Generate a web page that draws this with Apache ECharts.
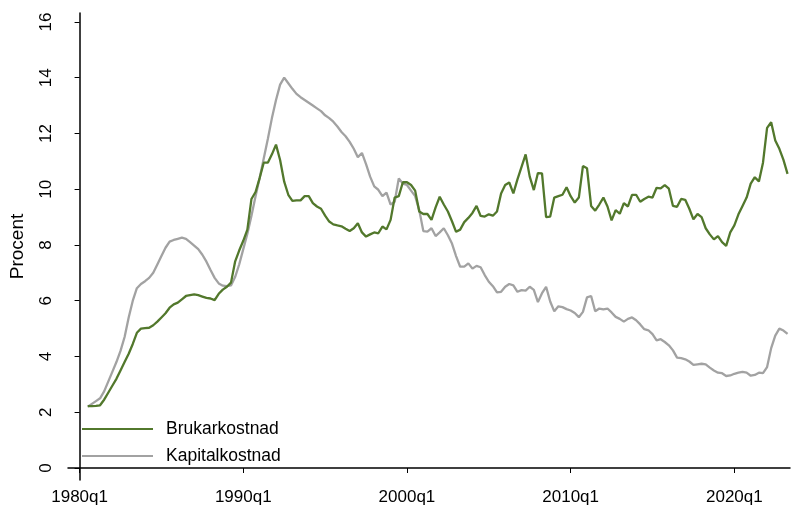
<!DOCTYPE html>
<html>
<head>
<meta charset="utf-8">
<script src="https://cdn.jsdelivr.net/npm/echarts@6/dist/echarts.min.js"></script>
<style>
  html, body { margin: 0; padding: 0; background: #fff; }
  #chart { width: 793px; height: 510px; }
</style>
</head>
<body>
<div id="chart"></div>
<script>
// kvartal räknas från 1980q1 = 0, första observationen är 1980q3
var startKvartal = 2;
var tickPos = [0, 40, 80, 120, 160];
var tickLabels = ['1980q1', '1990q1', '2000q1', '2010q1', '2020q1'];
var yTicks = [0, 2, 4, 6, 8, 10, 12, 14, 16];

var brukarkostnad = [
  2.22, 2.22, 2.23, 2.25, 2.45, 2.7, 2.95, 3.2, 3.5, 3.8, 4.1, 4.45, 4.85, 5.0, 5.02, 5.03,
  5.12, 5.25, 5.4, 5.55, 5.75, 5.87, 5.93, 6.05, 6.17, 6.2, 6.23, 6.2, 6.15, 6.1, 6.08, 6.02,
  6.25, 6.4, 6.5, 6.65, 7.4, 7.8, 8.15, 8.55, 9.65, 9.9, 10.4, 10.95, 10.95, 11.25, 11.6, 11.05,
  10.27, 9.8, 9.58, 9.6, 9.6, 9.75, 9.75, 9.5, 9.38, 9.3, 9.05, 8.84, 8.74, 8.7, 8.67, 8.58,
  8.5, 8.6, 8.78, 8.45, 8.3, 8.38, 8.45, 8.42, 8.66, 8.56, 8.9, 9.7, 9.75, 10.25, 10.25, 10.15,
  9.95, 9.2, 9.11, 9.11, 8.9, 9.35, 9.73, 9.45, 9.2, 8.85, 8.47, 8.55, 8.82, 8.97, 9.15, 9.4,
  9.04, 9.02, 9.1, 9.05, 9.2, 9.85, 10.15, 10.24, 9.85, 10.35, 10.8, 11.25, 10.45, 9.97, 10.58, 10.57,
  9.0, 9.02, 9.7, 9.75, 9.8, 10.07, 9.75, 9.52, 9.7, 10.83, 10.75, 9.4, 9.23, 9.45, 9.7, 9.38,
  8.88, 9.25, 9.12, 9.5, 9.38, 9.8, 9.8, 9.55, 9.65, 9.73, 9.7, 10.05, 10.03, 10.15, 10.02, 9.4,
  9.37, 9.65, 9.62, 9.3, 8.92, 9.11, 9.0, 8.6, 8.38, 8.2, 8.32, 8.1, 7.97, 8.45, 8.7, 9.1,
  9.4, 9.7, 10.2, 10.43, 10.28, 10.95, 12.2, 12.4, 11.75, 11.45, 11.05, 10.55
];

var kapitalkostnad = [
  2.2, 2.3, 2.4, 2.5, 2.75, 3.1, 3.45, 3.8, 4.2, 4.7, 5.4, 6.0, 6.45, 6.6, 6.7, 6.82,
  7.0, 7.3, 7.6, 7.9, 8.12, 8.18, 8.22, 8.26, 8.22, 8.1, 7.98, 7.85, 7.65, 7.4, 7.1, 6.82,
  6.62, 6.54, 6.52, 6.55, 6.85, 7.3, 7.85, 8.4, 9.05, 9.75, 10.4, 11.1, 11.8, 12.55, 13.2, 13.75,
  14.0, 13.8, 13.6, 13.42, 13.3, 13.2, 13.1, 13.0, 12.9, 12.8, 12.65, 12.55, 12.42, 12.25, 12.05, 11.9,
  11.7, 11.45, 11.15, 11.3, 10.9, 10.45, 10.1, 9.98, 9.75, 9.88, 9.45, 9.55, 10.39, 10.2, 10.15, 9.95,
  9.75, 9.25, 8.5, 8.48, 8.6, 8.32, 8.45, 8.6, 8.35, 8.05, 7.6, 7.22, 7.22, 7.34, 7.15, 7.25,
  7.2, 6.92, 6.68, 6.52, 6.3, 6.32, 6.5, 6.6, 6.55, 6.32, 6.38, 6.36, 6.5, 6.39, 5.95, 6.27,
  6.5, 5.97, 5.62, 5.8, 5.77, 5.7, 5.65, 5.56, 5.41, 5.6, 6.12, 6.17, 5.62, 5.72, 5.69, 5.72,
  5.58, 5.42, 5.35, 5.25, 5.35, 5.4, 5.3, 5.15, 4.98, 4.94, 4.8, 4.58, 4.62, 4.52, 4.4, 4.22,
  3.96, 3.94, 3.9, 3.82, 3.7, 3.72, 3.74, 3.72, 3.6, 3.5, 3.42, 3.4, 3.3, 3.32, 3.38, 3.42,
  3.45, 3.42, 3.31, 3.34, 3.42, 3.4, 3.62, 4.3, 4.75, 5.0, 4.93, 4.81
];

function toPairs(arr) {
  var out = [];
  for (var i = 0; i < arr.length; i++) {
    out.push([startKvartal + i, arr[i]]);
  }
  return out;
}

var font = '"Liberation Sans", Arial, Helvetica, sans-serif';
var green = '#52782c';
var grey = '#a2a2a2';

var chart = echarts.init(document.getElementById('chart'));

var option = {
  animation: false,
  backgroundColor: '#fff',
  grid: { left: 67, right: 3, top: 13, bottom: 30, containLabel: false },
  legend: [
    {
      data: ['Brukarkostnad'],
      left: 82, top: 419, padding: 0,
      icon: 'rect', itemWidth: 71, itemHeight: 2,
      textStyle: { fontFamily: font, fontSize: 17.5, color: '#000', lineHeight: 20, padding: [0, 0, 0, 8] }
    },
    {
      data: ['Kapitalkostnad'],
      left: 82, top: 446, padding: 0,
      icon: 'rect', itemWidth: 71, itemHeight: 2,
      textStyle: { fontFamily: font, fontSize: 17.5, color: '#000', lineHeight: 20, padding: [0, 0, 0, 8] }
    }
  ],
  xAxis: {
    type: 'value',
    min: -2.83,
    max: 173.6,
    splitLine: { show: false },
    axisLine: { show: true, lineStyle: { color: '#000', width: 1.5 } },
    axisTick: { show: true, customValues: tickPos, length: 5, lineStyle: { color: '#000', width: 1 } },
    axisLabel: {
      customValues: tickPos,
      fontFamily: font, fontSize: 17, color: '#000', margin: 9,
      formatter: function (v) {
        var i = tickPos.indexOf(v);
        return i >= 0 ? tickLabels[i] : '';
      }
    }
  },
  yAxis: {
    type: 'value',
    min: -0.43,
    max: 16.32,
    name: 'Procent',
    nameLocation: 'middle',
    nameRotate: 90,
    nameGap: 41,
    nameTextStyle: { fontFamily: font, fontSize: 19, color: '#000' },
    splitLine: { show: false },
    axisLine: { show: true, lineStyle: { color: '#000', width: 1.5 } },
    axisTick: { show: true, customValues: yTicks, length: 5, lineStyle: { color: '#000', width: 1 } },
    axisLabel: {
      customValues: yTicks,
      rotate: 90,
      fontFamily: font, fontSize: 17, color: '#000', margin: 13
    }
  },
  series: [
    {
      name: 'Brukarkostnad',
      type: 'line',
      data: toPairs(brukarkostnad),
      showSymbol: false,
      color: green,
      lineStyle: { color: green, width: 2.3 },
      z: 3
    },
    {
      name: 'Kapitalkostnad',
      type: 'line',
      data: toPairs(kapitalkostnad),
      showSymbol: false,
      color: grey,
      lineStyle: { color: grey, width: 2.3 },
      z: 2
    }
  ]
};

chart.setOption(option);
</script>
</body>
</html>
